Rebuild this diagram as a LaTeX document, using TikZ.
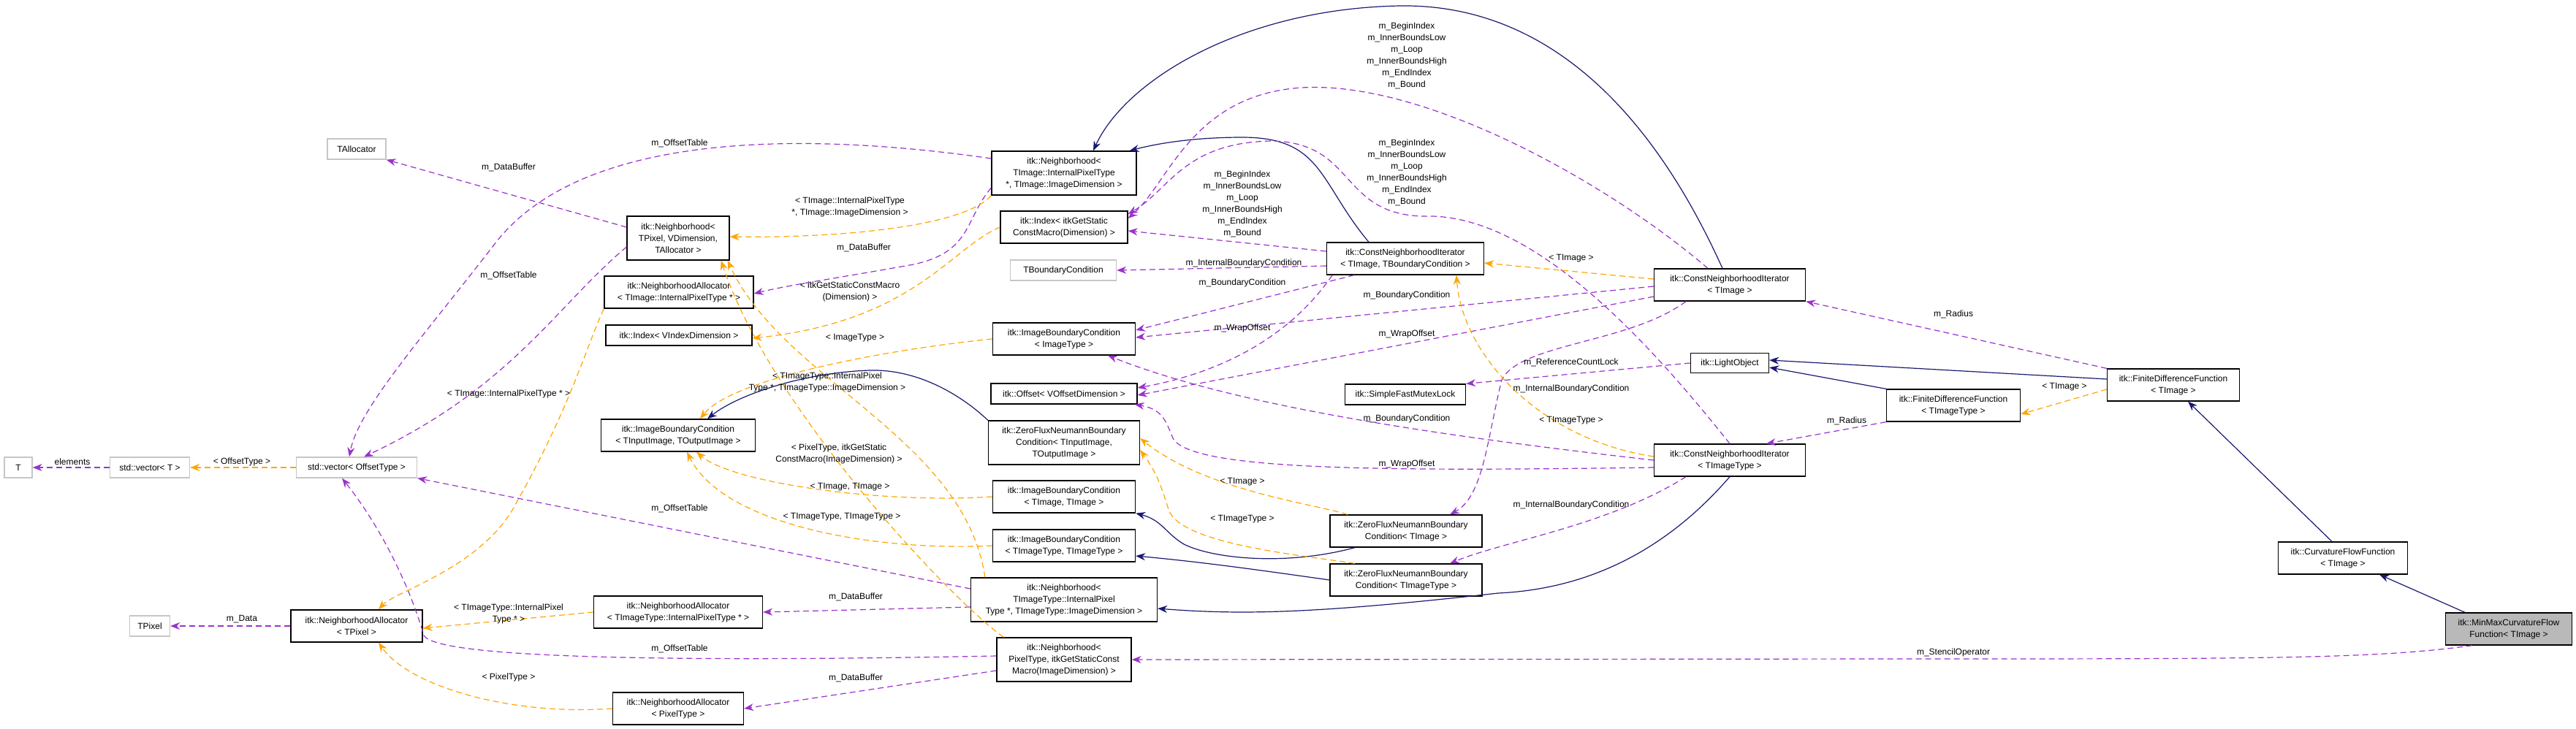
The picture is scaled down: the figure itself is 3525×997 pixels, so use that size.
\documentclass[tikz,border=0pt]{standalone}
\usepackage{fontspec}
\setmainfont{Liberation Sans}
\usetikzlibrary{arrows.meta}
\definecolor{inhc}{HTML}{191970}
\definecolor{usec}{HTML}{9A32CD}
\definecolor{tplc}{HTML}{FFA500}
\begin{document}
\begin{tikzpicture}[x=1pt,y=-1pt,font=\fontsize{12}{16}\selectfont,
 box/.style={draw=black,line width=1.3pt,fill=white,align=center,inner sep=0pt},
 gbox/.style={draw=gray!45,line width=1.3pt,fill=white,align=center,inner sep=0pt},
 lbl/.style={align=center,inner sep=1pt},
 tip/.style={-{Stealth[length=13pt,width=10pt]}},
 inh/.style={tip,draw=inhc,fill=none,line width=1.2pt},
 use/.style={tip,draw=usec,dash pattern=on 8pt off 5pt,line width=1.2pt},
 tpl/.style={tip,draw=tplc,dash pattern=on 8pt off 5pt,line width=1.2pt}]
\useasboundingbox (0,0) rectangle (3525,997);
% nodes
\node[gbox,minimum width=80,minimum height=28] (ta) at (488,204) {TAllocator};
\node[box,minimum width=140,minimum height=60] (nbp) at (928,326) {itk::Neighborhood\textless\\TPixel, VDimension,\\TAllocator \textgreater};
\node[box,minimum width=204,minimum height=44] (nai) at (929,400) {itk::NeighborhoodAllocator\\\textless{} TImage::InternalPixelType * \textgreater};
\node[box,minimum width=200,minimum height=28] (ivd) at (929,459) {itk::Index\textless{} VIndexDimension \textgreater};
\node[box,minimum width=198,minimum height=60] (nbi) at (1456,237) {itk::Neighborhood\textless\\TImage::InternalPixelType\\*, TImage::ImageDimension \textgreater};
\node[box,minimum width=174,minimum height=44] (igs) at (1456,311) {itk::Index\textless{} itkGetStatic\\ConstMacro(Dimension) \textgreater};
\node[gbox,minimum width=145,minimum height=28] (tbc) at (1455,370) {TBoundaryCondition};
\node[box,minimum width=215,minimum height=44] (cnitb) at (1923,354) {itk::ConstNeighborhoodIterator\\\textless{} TImage, TBoundaryCondition \textgreater};
\node[box,minimum width=195,minimum height=44] (ibi) at (1456,464) {itk::ImageBoundaryCondition\\\textless{} ImageType \textgreater};
\node[box,minimum width=200,minimum height=28] (offs) at (1456,539) {itk::Offset\textless{} VOffsetDimension \textgreater};
\node[box,minimum width=165,minimum height=28] (sfm) at (1923,540) {itk::SimpleFastMutexLock};
\node[box,minimum width=207,minimum height=60] (zfio) at (1456,606) {itk::ZeroFluxNeumannBoundary\\Condition\textless{} TInputImage,\\TOutputImage \textgreater};
\node[box,minimum width=195,minimum height=44] (ibtt) at (1456,680) {itk::ImageBoundaryCondition\\\textless{} TImage, TImage \textgreater};
\node[box,minimum width=195,minimum height=44] (ibttt) at (1456,747) {itk::ImageBoundaryCondition\\\textless{} TImageType, TImageType \textgreater};
\node[box,minimum width=255,minimum height=60] (nbt) at (1456,821) {itk::Neighborhood\textless\\TImageType::InternalPixel\\Type *, TImageType::ImageDimension \textgreater};
\node[box,minimum width=184,minimum height=60] (nbps) at (1456,903) {itk::Neighborhood\textless\\PixelType, itkGetStaticConst\\Macro(ImageDimension) \textgreater};
\node[box,minimum width=208,minimum height=44] (zft) at (1924,727) {itk::ZeroFluxNeumannBoundary\\Condition\textless{} TImage \textgreater};
\node[box,minimum width=208,minimum height=44] (zftt) at (1924,794) {itk::ZeroFluxNeumannBoundary\\Condition\textless{} TImageType \textgreater};
\node[gbox,minimum width=38,minimum height=28] (t) at (25,640) {T};
\node[gbox,minimum width=109,minimum height=28] (svt) at (205,640) {std::vector\textless{} T \textgreater};
\node[gbox,minimum width=165,minimum height=28] (svo) at (488,640) {std::vector\textless{} OffsetType \textgreater};
\node[box,minimum width=211,minimum height=44] (ibio) at (928,596) {itk::ImageBoundaryCondition\\\textless{} TInputImage, TOutputImage \textgreater};
\node[gbox,minimum width=55,minimum height=28] (tp) at (205,857) {TPixel};
\node[box,minimum width=180,minimum height=44] (nat) at (488,857) {itk::NeighborhoodAllocator\\\textless{} TPixel \textgreater};
\node[box,minimum width=231,minimum height=44] (nati) at (928,838) {itk::NeighborhoodAllocator\\\textless{} TImageType::InternalPixelType * \textgreater};
\node[box,minimum width=179,minimum height=44] (nap) at (928,970) {itk::NeighborhoodAllocator\\\textless{} PixelType \textgreater};
\node[box,minimum width=207,minimum height=44] (cni) at (2367,390) {itk::ConstNeighborhoodIterator\\\textless{} TImage \textgreater};
\node[box,minimum width=107,minimum height=27] (lo) at (2367,497) {itk::LightObject};
\node[box,minimum width=181,minimum height=44] (fdi) at (2974,527) {itk::FiniteDifferenceFunction\\\textless{} TImage \textgreater};
\node[box,minimum width=183,minimum height=44] (fdt) at (2673,555) {itk::FiniteDifferenceFunction\\\textless{} TImageType \textgreater};
\node[box,minimum width=207,minimum height=44] (cnitt) at (2367,630) {itk::ConstNeighborhoodIterator\\\textless{} TImageType \textgreater};
\node[box,minimum width=177,minimum height=44] (cf) at (3206,764) {itk::CurvatureFlowFunction\\\textless{} TImage \textgreater};
\node[box,fill=gray!55,minimum width=173,minimum height=44] (mm) at (3433,861) {itk::MinMaxCurvatureFlow\\Function\textless{} TImage \textgreater};
% inheritance
\draw[inh] ([xshift=-10]cni.north) .. controls (2250,130) and (2100,5) .. (1915,8) .. controls (1700,12) and (1540,110) .. ([xshift=40]nbi.north);
\draw[inh] ([xshift=-50]cnitb.north) .. controls (1805,250) and (1810,188) .. (1700,188) .. controls (1620,188) and (1570,200) .. ([xshift=-10]nbi.north east);
\draw[inh] (cnitt.south) .. controls (2300,730) and (2200,805) .. (2050,812) .. controls (1800,840) and (1700,842) .. ([yshift=-12]nbt.east);
\draw[inh] (zfio.north west) .. controls (1320,545) and (1260,505) .. (1190,507) .. controls (1100,510) and (1010,540) .. ([xshift=40]ibio.north);
\draw[inh] ([xshift=-70]zft.south) .. controls (1760,775) and (1660,765) .. (1620,745) .. controls (1595,730) and (1590,712) .. (ibtt.south east);
\draw[inh] (zftt.west) .. controls (1720,780) and (1650,770) .. ([yshift=-14]ibttt.east);
\draw[inh] ([yshift=8]fdi.west) -- ([yshift=4]lo.east);
\draw[inh] (fdt.north west) -- ([yshift=-6]lo.east);
\draw[inh] ([xshift=-15]cf.north) -- ([xshift=20]fdi.south);
\draw[inh] ([xshift=-60]mm.north) -- ([xshift=50]cf.south);
% usage
\draw[use] ([yshift=15]nbp.west) -- (ta.south east);
\draw[use] ([yshift=-12]nbp.west) .. controls (760,420) and (700,530) .. ([xshift=10]svo.north);
\draw[use] ([yshift=20]nbi.west) .. controls (1100,180) and (800,180) .. (680,330) .. controls (580,460) and (490,560) .. ([xshift=-10]svo.north);
\draw[use] ([yshift=-20]nbi.west) .. controls (1320,300) and (1330,345) .. (1250,362) .. controls (1150,380) and (1080,390) .. ([yshift=-2]nai.east);
\draw[use] ([xshift=-30]cni.north) .. controls (2200,250) and (1950,110) .. (1781,120) .. controls (1630,130) and (1600,250) .. ([yshift=12]igs.east);
\draw[use] ([yshift=10]cnitb.west) -- ([yshift=-5]igs.east);
\draw[use] (cnitt.north) .. controls (2250,460) and (2100,300) .. (1960,296) .. controls (1830,300) and (1860,195) .. (1740,193) .. controls (1620,195) and (1600,260) .. ([yshift=18]igs.east);
\draw[use] ([yshift=-10]cnitb.west) -- (tbc.east);
\draw[use] ([xshift=-70]cnitb.south) -- ([yshift=12]ibi.east);
\draw[use] ([yshift=-2]cni.west) -- ([yshift=2]ibi.east);
\draw[use] ([xshift=-100]cnitb.south) .. controls (1780,440) and (1700,505) .. ([yshift=8]offs.east);
\draw[use] ([yshift=-16]cni.west) -- ([yshift=-2]offs.east);
\draw[use] (cnitt.west) .. controls (2000,600) and (1700,560) .. ([xshift=60]ibi.south);
\draw[use] ([yshift=-10]cnitt.west) .. controls (1900,645) and (1630,645) .. (1605,600) .. controls (1595,575) and (1590,560) .. ([xshift=-4]offs.south east);
\draw[use] (lo.west) -- (sfm.north east);
\draw[use] ([xshift=-60]cni.south) .. controls (2230,470) and (2080,470) .. (2055,520) .. controls (2035,600) and (2030,680) .. ([xshift=60]zft.north);
\draw[use] ([xshift=-60]cnitt.south) .. controls (2200,720) and (2060,740) .. ([xshift=60]zftt.north);
\draw[use] (fdi.north west) -- (cni.south east);
\draw[use] (fdt.south west) -- ([xshift=50]cnitt.north);
\draw[use] ([xshift=-50]mm.south) .. controls (3250,902) and (3100,902) .. (2600,902) -- (nbps.east);
\draw[use] (nat.west) -- (tp.east);
\draw[use] (svt.west) -- (t.east);
\draw[use] ([yshift=-10]nbt.west) -- (nati.east);
\draw[use] ([yshift=15]nbt.west) -- (svo.south east);
\draw[use] ([yshift=-15]nbps.west) -- (nap.east);
\draw[use] ([yshift=5]nbps.west) .. controls (1000,905) and (600,905) .. (580,870) .. controls (560,800) and (520,720) .. ([xshift=-20]svo.south);
% template
\draw[tpl] (svo.west) -- (svt.east);
\draw[tpl] (nai.south west) .. controls (800,480) and (780,560) .. (700,700) .. controls (650,780) and (540,810) .. ([xshift=30]nat.north);
\draw[tpl] (nati.west) -- ([yshift=-3]nat.east);
\draw[tpl] (nap.west) .. controls (700,980) and (560,940) .. ([xshift=30]nat.south);
\draw[tpl] (nbi.south west) .. controls (1320,310) and (1150,326) .. ([yshift=2]nbp.east);
\draw[tpl] ([xshift=20]nbt.north west) .. controls (1320,600) and (1070,520) .. ([xshift=-3]nbp.south east);
\draw[tpl] ([xshift=10]nbps.north west) .. controls (1300,820) and (1055,560) .. ([xshift=-12]nbp.south east);
\draw[tpl] (igs.west) .. controls (1300,340) and (1250,440) .. ([yshift=-4]ivd.east);
\draw[tpl] (ibi.west) .. controls (1200,480) and (1000,520) .. ([xshift=30]ibio.north);
\draw[tpl] (ibtt.west) .. controls (1200,690) and (1000,660) .. ([xshift=25]ibio.south);
\draw[tpl] (ibttt.west) .. controls (1200,755) and (990,720) .. ([xshift=12]ibio.south);
\draw[tpl] ([xshift=-80]zft.north) .. controls (1800,690) and (1650,672) .. ([yshift=6]zfio.east);
\draw[tpl] ([xshift=-70]zftt.north) .. controls (1780,760) and (1620,745) .. (1600,700) .. controls (1590,670) and (1585,650) .. ([yshift=-10]zfio.east);
\draw[tpl] ([yshift=8]cni.west) -- ([yshift=-6]cnitb.east);
\draw[tpl] ([yshift=5]cnitt.west) .. controls (2100,600) and (2000,480) .. ([xshift=70]cnitb.south);
\draw[tpl] ([yshift=-6]fdi.west) -- ([yshift=-12]fdt.east);
% labels
\node[lbl] (l1) at (696,229) {m\_DataBuffer};
\node[lbl] (l2) at (696,377) {m\_OffsetTable};
\node[lbl] (l3) at (930,196) {m\_OffsetTable};
\node[lbl] (l4) at (1163,283) {\textless{} TImage::InternalPixelType\\*, TImage::ImageDimension \textgreater};
\node[lbl] (l5) at (1182,339) {m\_DataBuffer};
\node[lbl] (l6) at (1163,399) {\textless{} itkGetStaticConstMacro\\(Dimension) \textgreater};
\node[lbl] (l7) at (1170,463) {\textless{} ImageType \textgreater};
\node[lbl] (l8) at (1132,523) {\textless{} TImageType::InternalPixel\\Type *, TImageType::ImageDimension \textgreater};
\node[lbl] (l9) at (696,539) {\textless{} TImage::InternalPixelType * \textgreater};
\node[lbl] (l10) at (1148,621) {\textless{} PixelType, itkGetStatic\\ConstMacro(ImageDimension) \textgreater};
\node[lbl] (l11) at (1163,667) {\textless{} TImage, TImage \textgreater};
\node[lbl] (l12) at (1152,708) {\textless{} TImageType, TImageType \textgreater};
\node[lbl] (l13) at (930,696) {m\_OffsetTable};
\node[lbl] (l14) at (99,632) {elements};
\node[lbl] (l15) at (331,632) {\textless{} OffsetType \textgreater};
\node[lbl] (l16) at (696,840) {\textless{} TImageType::InternalPixel\\Type * \textgreater};
\node[lbl] (l17) at (331,848) {m\_Data};
\node[lbl] (l18) at (1171,817) {m\_DataBuffer};
\node[lbl] (l19) at (930,888) {m\_OffsetTable};
\node[lbl] (l20) at (696,927) {\textless{} PixelType \textgreater};
\node[lbl] (l21) at (1171,928) {m\_DataBuffer};
\node[lbl] (l22) at (1925,76) {m\_BeginIndex\\m\_InnerBoundsLow\\m\_Loop\\m\_InnerBoundsHigh\\m\_EndIndex\\m\_Bound};
\node[lbl] (l23) at (1925,236) {m\_BeginIndex\\m\_InnerBoundsLow\\m\_Loop\\m\_InnerBoundsHigh\\m\_EndIndex\\m\_Bound};
\node[lbl] (l24) at (1700,279) {m\_BeginIndex\\m\_InnerBoundsLow\\m\_Loop\\m\_InnerBoundsHigh\\m\_EndIndex\\m\_Bound};
\node[lbl] (l25) at (1702,360) {m\_InternalBoundaryCondition};
\node[lbl] (l26) at (1700,387) {m\_BoundaryCondition};
\node[lbl] (l27) at (1925,404) {m\_BoundaryCondition};
\node[lbl] (l28) at (1700,449) {m\_WrapOffset};
\node[lbl] (l29) at (1925,457) {m\_WrapOffset};
\node[lbl] (l30) at (1925,573) {m\_BoundaryCondition};
\node[lbl] (l31) at (1925,635) {m\_WrapOffset};
\node[lbl] (l32) at (1700,660) {\textless{} TImage \textgreater};
\node[lbl] (l33) at (1700,711) {\textless{} TImageType \textgreater};
\node[lbl] (l34) at (2150,354) {\textless{} TImage \textgreater};
\node[lbl] (l35) at (2150,496) {m\_ReferenceCountLock};
\node[lbl] (l36) at (2150,532) {m\_InternalBoundaryCondition};
\node[lbl] (l37) at (2150,576) {\textless{} TImageType \textgreater};
\node[lbl] (l38) at (2150,691) {m\_InternalBoundaryCondition};
\node[lbl] (l39) at (2673,430) {m\_Radius};
\node[lbl] (l40) at (2527,576) {m\_Radius};
\node[lbl] (l41) at (2825,530) {\textless{} TImage \textgreater};
\node[lbl] (l42) at (2673,893) {m\_StencilOperator};
\end{tikzpicture}
\end{document}
